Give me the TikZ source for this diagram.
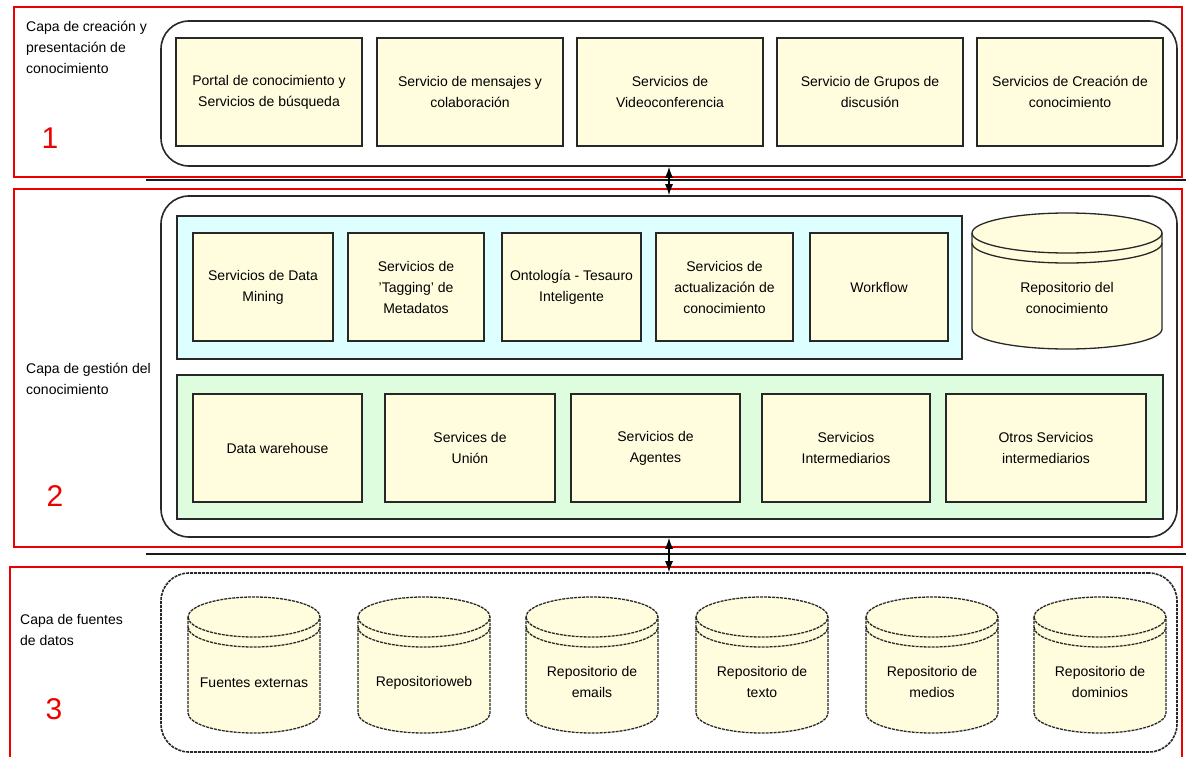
\documentclass[tikz,border=0pt]{standalone}
\usepackage{fontspec}
\setmainfont{Liberation Sans}
\usetikzlibrary{arrows.meta}

\definecolor{boxfill}{RGB}{255,253,222}
\definecolor{cyanfill}{RGB}{222,255,255}
\definecolor{greenfill}{RGB}{222,252,222}
\definecolor{framered}{RGB}{238,0,0}
\definecolor{edge}{RGB}{40,40,40}

\newcommand\txt{\fontsize{14}{21}\selectfont}
\newcommand\bignum{\fontsize{30}{30}\selectfont}

\tikzset{
  redframe/.style={draw=framered, line width=1.3pt},
  sepline/.style={draw=black!90, line width=1.8pt},
  layerbox/.style={draw=edge, line width=1.6pt, fill=white, rounded corners=28pt, inner sep=0pt},
  panel/.style={draw=edge, line width=1.5pt, inner sep=0pt},
  svc/.style={draw=edge, line width=1.6pt, fill=boxfill, inner sep=0pt,
              align=center, font=\txt, text=black, minimum height=108pt},
  cyltext/.style={inner sep=0pt, align=center, font=\txt, text=black},
  cylline/.style={draw=edge, line width=1.3pt, fill=boxfill},
  dashline/.style={dash pattern=on 3pt off 1pt},
  lbl/.style={inner sep=0pt, align=left, font=\txt, text=black, anchor=north west},
  num/.style={inner sep=0pt, font=\bignum, text=framered},
  dbl/.style={{Latex[length=11pt,width=8pt]}-{Latex[length=11pt,width=8pt]}, line width=1.2pt, draw=black}
}

% Storage cylinder: #1 centre x, #2 top y, #3 bottom y, #4 half width, #5 extra style
\newcommand\dbcyl[5]{%
  \pgfmathsetmacro\cylA{#2+20}%
  \pgfmathsetmacro\cylB{#3-20}%
  \pgfmathsetmacro\cylRim{#2+30}%
  \pgfmathsetmacro\cylL{#1-#4}%
  \pgfmathsetmacro\cylR{#1+#4}%
  \pgfmathsetmacro\cylK{0.5523*#4}%
  \def\cylKy{11.05}%
  % body
  \path[cylline,#5] (\cylL,\cylA) -- (\cylL,\cylB)
     .. controls (\cylL,\cylB+\cylKy) and (#1-\cylK,\cylB+20) .. (#1,\cylB+20)
     .. controls (#1+\cylK,\cylB+20) and (\cylR,\cylB+\cylKy) .. (\cylR,\cylB)
     -- (\cylR,\cylA)
     .. controls (\cylR,\cylA-\cylKy) and (#1+\cylK,\cylA-20) .. (#1,\cylA-20)
     .. controls (#1-\cylK,\cylA-20) and (\cylL,\cylA-\cylKy) .. cycle;
  % lower edge of the lid
  \draw[cylline,fill=none,#5] (\cylL,\cylA)
     .. controls (\cylL,\cylA+\cylKy) and (#1-\cylK,\cylA+20) .. (#1,\cylA+20)
     .. controls (#1+\cylK,\cylA+20) and (\cylR,\cylA+\cylKy) .. (\cylR,\cylA);
  % rim line under the lid
  \draw[cylline,fill=none,#5] (\cylL,\cylRim)
     .. controls (\cylL,\cylRim+\cylKy) and (#1-\cylK,\cylRim+20) .. (#1,\cylRim+20)
     .. controls (#1+\cylK,\cylRim+20) and (\cylR,\cylRim+\cylKy) .. (\cylR,\cylRim);
}

\begin{document}
\begin{tikzpicture}[x=1pt,y=-1pt]
\useasboundingbox (0,0) rectangle (1186,757);
\clip (0,0) rectangle (1186,757);
\fill[white] (0,0) rectangle (1186,757);

% red frames around the three layers
\draw[redframe] (14,7) rectangle (1182,177);
\draw[redframe] (14,189) rectangle (1182,547);
\draw[redframe] (10,567) rectangle (1182,800);

% separators between layers
\coordinate (s1a) at (146,180);
\coordinate (s1b) at (1186,180);
\coordinate (s2a) at (146,554);
\coordinate (s2b) at (1186,554);
\draw[sepline] (s1a) -- (s1b);
\draw[sepline] (s2a) -- (s2b);

% layer containers
\node[layerbox, minimum width=1016pt, minimum height=145pt] (L1) at (669,93.5) {};
\node[layerbox, minimum width=1016pt, minimum height=341pt] (L2) at (669,366.5) {};
\node[layerbox, dashline, minimum width=1016pt, minimum height=179pt] (L3) at (669,662.5) {};

% links between layers
\draw[dbl] (L1.south) -- (L2.north);
\draw[dbl] (L2.south) -- (L3.north);

% layer titles and numbers
\node[lbl] (T1) at (26,21) {Capa de creación y\\presentación de\\conocimiento};
\node[lbl] (T2) at (26,363) {Capa de gestión del\\conocimiento};
\node[lbl] (T3) at (20,614) {Capa de fuentes\\de datos};
\node[num] (N1) at (50,138) {1};
\node[num] (N2) at (55,496) {2};
\node[num] (N3) at (54,709) {3};

% layer 1: creation and presentation services
\node[svc, minimum width=186pt] (a1) at (269,92) {Portal de conocimiento y\\Servicios de búsqueda};
\node[svc, minimum width=186pt] (a2) at (470,92) {Servicio de mensajes y\\colaboración};
\node[svc, minimum width=186pt] (a3) at (670,92) {Servicios de\\Videoconferencia};
\node[svc, minimum width=186pt] (a4) at (870,92) {Servicio de Grupos de\\discusión};
\node[svc, minimum width=186pt] (a5) at (1070,92) {Servicios de Creación de\\conocimiento};

% layer 2: upper panel
\node[panel, fill=cyanfill, minimum width=785pt, minimum height=143pt] (P1) at (569.5,287.5) {};
\node[svc, minimum width=140pt] (b1) at (263,287) {Servicios de Data\\Mining};
\node[svc, minimum width=136pt] (b2) at (416,287) {Servicios de\\'Tagging' de\\Metadatos};
\node[svc, minimum width=139pt] (b3) at (571.5,287) {Ontología - Tesauro\\Inteligente};
\node[svc, minimum width=137pt] (b4) at (724.5,287) {Servicios de\\actualización de\\conocimiento};
\node[svc, minimum width=138pt] (b5) at (879,287) {Workflow};

\dbcyl{1067}{213}{349}{95}{}
\node[cyltext] (r0) at (1067,298) {Repositorio del\\conocimiento};

% layer 2: lower panel
\node[panel, fill=greenfill, minimum width=986pt, minimum height=144pt] (P2) at (670,447) {};
\node[svc, minimum width=169pt] (c1) at (277.5,448) {Data warehouse};
\node[svc, minimum width=170pt] (c2) at (470,448) {Services de\\Unión};
\node[svc, minimum width=169pt] (c3) at (655.5,448) {Servicios de\\Agentes};
\node[svc, minimum width=168pt] (c4) at (846,448) {Servicios\\Intermediarios};
\node[svc, minimum width=200pt] (c5) at (1046,448) {Otros Servicios\\intermediarios};

% layer 3: data sources
\dbcyl{254}{597}{733}{66}{dashline}
\dbcyl{424}{597}{733}{66}{dashline}
\dbcyl{592}{597}{733}{66}{dashline}
\dbcyl{762}{597}{733}{66}{dashline}
\dbcyl{932}{597}{733}{66}{dashline}
\dbcyl{1100}{597}{733}{66}{dashline}
\node[cyltext] (d1) at (254,683) {Fuentes externas};
\node[cyltext] (d2) at (424,683) {Repositorioweb};
\node[cyltext] (d3) at (592,682) {Repositorio de\\emails};
\node[cyltext] (d4) at (762,682) {Repositorio de\\texto};
\node[cyltext] (d5) at (932,682) {Repositorio de\\medios};
\node[cyltext] (d6) at (1100,682) {Repositorio de\\dominios};
\end{tikzpicture}
\end{document}
